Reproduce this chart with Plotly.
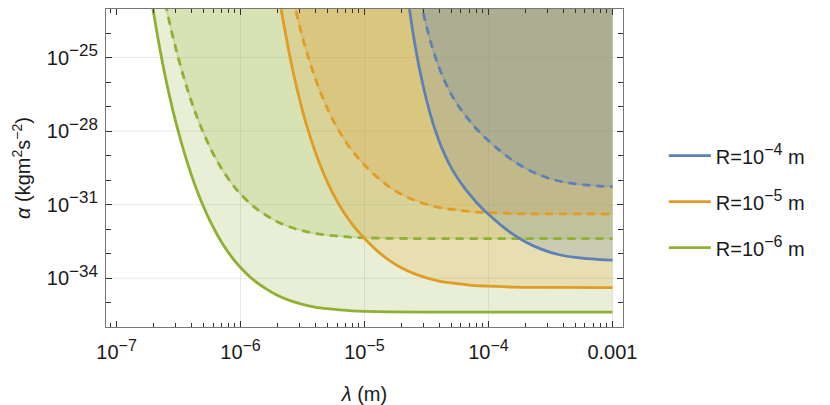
import plotly.graph_objects as go

# ---- data (log10 values) ----
# R = 1e-6 m (green)
g_sol_lx = [-6.72, -6.706, -6.65, -6.60, -6.55, -6.50, -6.45, -6.40, -6.35, -6.30, -6.25, -6.20, -6.15, -6.10, -6.05,
            -6.00, -5.90, -5.80, -5.70, -5.60, -5.50, -5.40, -5.30, -5.20, -5.10, -5.00, -4.80, -4.50, -4.00, -3.50, -3.00]
g_sol_ly = [-22.56, -23.02, -24.66, -25.94, -27.06, -28.05, -28.94, -29.73, -30.44, -31.06, -31.62, -32.11, -32.55, -32.93, -33.27,
            -33.56, -34.05, -34.41, -34.70, -34.91, -35.06, -35.17, -35.24, -35.29, -35.33, -35.35, -35.37, -35.38, -35.38, -35.38, -35.38]
g_das_lx = [-6.65, -6.60, -6.55, -6.50, -6.45, -6.40, -6.35, -6.30, -6.25, -6.20, -6.15, -6.10, -6.05,
            -6.00, -5.90, -5.80, -5.70, -5.60, -5.50, -5.40, -5.30, -5.20, -5.10, -5.00, -4.80, -4.50, -4.00, -3.50, -3.00]
g_das_ly = [-21.66, -22.94, -24.06, -25.05, -25.94, -26.73, -27.44, -28.06, -28.62, -29.11, -29.55, -29.93, -30.27,
            -30.56, -31.05, -31.41, -31.70, -31.91, -32.06, -32.17, -32.24, -32.29, -32.33, -32.35, -32.37, -32.38, -32.38, -32.38, -32.38]
# R = 1e-5 m (orange)
o_sol_lx = [-5.69, -5.672, -5.65, -5.60, -5.55, -5.50, -5.45, -5.40, -5.35, -5.30, -5.25, -5.20, -5.15, -5.10, -5.05,
            -5.00, -4.90, -4.80, -4.70, -4.60, -4.50, -4.40, -4.30, -4.20, -4.10, -4.00, -3.80, -3.50, -3.00]
o_sol_ly = [-22.47, -23.03, -23.66, -25.00, -26.16, -27.17, -28.04, -28.81, -29.48, -30.07, -30.59, -31.04, -31.44, -31.79, -32.10,
            -32.38, -32.87, -33.27, -33.58, -33.81, -33.98, -34.11, -34.19, -34.25, -34.30, -34.32, -34.36, -34.37, -34.38]
o_das_lx = [-5.60, -5.55, -5.50, -5.45, -5.40, -5.35, -5.30, -5.25, -5.20, -5.15, -5.10, -5.05,
            -5.00, -4.90, -4.80, -4.70, -4.60, -4.50, -4.40, -4.30, -4.20, -4.10, -4.00, -3.80, -3.50, -3.00]
o_das_ly = [-22.00, -23.16, -24.17, -25.04, -25.81, -26.48, -27.07, -27.59, -28.04, -28.44, -28.79, -29.10,
            -29.38, -29.87, -30.27, -30.58, -30.81, -30.98, -31.11, -31.19, -31.25, -31.30, -31.32, -31.36, -31.37, -31.38]
# R = 1e-4 m (blue)
b_sol_lx = [-4.66, -4.638, -4.60, -4.55, -4.50, -4.45, -4.40, -4.35, -4.30, -4.25, -4.20, -4.15, -4.10, -4.05,
            -4.00, -3.90, -3.80, -3.70, -3.60, -3.50, -3.40, -3.30, -3.20, -3.10, -3.00]
b_sol_ly = [-22.16, -23.00, -24.26, -25.62, -26.73, -27.64, -28.38, -28.99, -29.50, -29.91, -30.27, -30.59, -30.89, -31.15,
            -31.39, -31.83, -32.21, -32.52, -32.76, -32.94, -33.07, -33.15, -33.20, -33.24, -33.26]
b_das_lx = [-4.55, -4.50, -4.45, -4.40, -4.35, -4.30, -4.25, -4.20, -4.15, -4.10, -4.05,
            -4.00, -3.90, -3.80, -3.70, -3.60, -3.50, -3.40, -3.30, -3.20, -3.10, -3.00]
b_das_ly = [-22.62, -23.73, -24.64, -25.38, -25.99, -26.50, -26.91, -27.27, -27.59, -27.89, -28.15,
            -28.39, -28.83, -29.21, -29.52, -29.76, -29.94, -30.07, -30.15, -30.20, -30.24, -30.26]

SUP = '<sup><span style="font-size:16px">{}</span></sup>'
SUPY = '<sup><span style="font-size:17px">{}</span></sup>'
series_names = ["R=10" + SUP.format("\u22124") + " m", "R=10" + SUP.format("\u22125") + " m",
                "R=10" + SUP.format("\u22126") + " m"]
colors = ["#5E81B5", "#E19C24", "#8FB032"]
fills = ["rgba(94,129,181,0.2)", "rgba(225,156,36,0.2)", "rgba(143,176,50,0.2)"]
edges = ["rgba(94,129,181,0.3)", "rgba(225,156,36,0.3)", "rgba(143,176,50,0.3)"]

x_tick_vals = [1e-7, 1e-6, 1e-5, 1e-4, 1e-3]
x_tick_text = ["10" + SUP.format("\u22127"), "10" + SUP.format("\u22126"), "10" + SUP.format("\u22125"),
               "10" + SUP.format("\u22124"), "0.001"]
y_tick_vals = [1e-25, 1e-28, 1e-31, 1e-34]
y_tick_text = ["10" + SUPY.format("\u221225"), "10" + SUPY.format("\u221228"), "10" + SUPY.format("\u221231"),
               "10" + SUPY.format("\u221234")]

TOP = 1e-21


def pw(lst):
    return [10 ** v for v in lst]


curves = [
    ("g", g_sol_lx, g_sol_ly, g_das_lx, g_das_ly, 2),
    ("o", o_sol_lx, o_sol_ly, o_das_lx, o_das_ly, 1),
    ("b", b_sol_lx, b_sol_ly, b_das_lx, b_das_ly, 0),
]

fig = go.Figure()

# fills (drawn first, each from its curve up to the top)
for key, slx, sly, dlx, dly, ci in curves:
    for lx, ly in ((slx, sly), (dlx, dly)):
        xs = pw(lx)
        fig.add_trace(go.Scatter(x=[xs[0], xs[-1]], y=[TOP, TOP], mode="lines",
                                 line=dict(width=0, color="rgba(0,0,0,0)"),
                                 showlegend=False, hoverinfo="skip"))
        fig.add_trace(go.Scatter(x=xs, y=pw(ly), mode="lines", fill="tonexty",
                                 fillcolor=fills[ci],
                                 line=dict(width=0, color="rgba(0,0,0,0)", shape="spline"),
                                 showlegend=False, hoverinfo="skip"))

# faint fill edge under the dashed curves
for key, slx, sly, dlx, dly, ci in curves:
    fig.add_trace(go.Scatter(x=pw(dlx), y=pw(dly), mode="lines",
                             line=dict(width=1.5, color=edges[ci], shape="spline"),
                             showlegend=False, hoverinfo="skip"))

# lines
for key, slx, sly, dlx, dly, ci in curves:
    fig.add_trace(go.Scatter(x=pw(dlx), y=pw(dly), mode="lines",
                             line=dict(width=2.8, color=colors[ci], dash="8px,6px", shape="spline"),
                             showlegend=False, legendgroup=key))
    fig.add_trace(go.Scatter(x=pw(slx), y=pw(sly), mode="lines", name=series_names[ci],
                             line=dict(width=2.8, color=colors[ci], shape="spline"),
                             legendgroup=key, legendrank=ci + 1))

# gridlines at the decades used by the frame grid
for gx in [1e-6, 1e-5, 1e-4, 1e-3]:
    fig.add_shape(type="line", xref="x", yref="paper", x0=gx, x1=gx, y0=0, y1=1,
                  line=dict(color="rgba(0,0,0,0.09)", width=1), layer="below")
for gy in y_tick_vals:
    fig.add_shape(type="line", xref="paper", yref="y", x0=0, x1=1, y0=gy, y1=gy,
                  line=dict(color="rgba(0,0,0,0.09)", width=1), layer="below")

x_minor = [k * 10 ** e for e in range(-8, -2) for k in range(2, 10)]
y_minor = [10.0 ** e for e in range(-36, -22)]

font = dict(family="Liberation Sans, Arial, sans-serif", size=20, color="#1a1a1a")

# the page body adds an 8px offset, so the figure is 8px smaller and margins are shifted
fig.update_layout(
    width=822, height=397,
    margin=dict(l=98, r=207, t=1, b=78),
    plot_bgcolor="white", paper_bgcolor="white",
    font=font,
    showlegend=True,
    legend=dict(x=1.079, y=0.6, xanchor="left", yanchor="top",
                traceorder="grouped", tracegroupgap=17, itemwidth=42,
                font=dict(size=20, color="#1a1a1a"), bgcolor="rgba(0,0,0,0)"),
    xaxis=dict(type="log", range=[-7.085, -2.915], automargin=False,
               tickmode="array", tickvals=x_tick_vals, ticktext=x_tick_text,
               ticks="inside", ticklen=6, tickcolor="#333", tickwidth=1,
               showline=True, linecolor="#777", linewidth=1.2, mirror="ticks",
               showgrid=False, zeroline=False,
               minor=dict(tickmode="array", tickvals=x_minor, ticks="inside", ticklen=3.5,
                          tickcolor="#333", tickwidth=1, showgrid=False),
               title=dict(text="<i>\u03bb</i> (m)", font=dict(size=20), standoff=24),
               ticklabelstandoff=7),
    yaxis=dict(type="log", range=[-35.985, -23.02], automargin=False,
               tickmode="array", tickvals=y_tick_vals, ticktext=y_tick_text,
               ticks="inside", ticklen=6, tickcolor="#333", tickwidth=1,
               showline=True, linecolor="#777", linewidth=1.2, mirror="ticks",
               showgrid=False, zeroline=False,
               minor=dict(tickmode="array", tickvals=y_minor, ticks="inside", ticklen=4.5,
                          tickcolor="#333", tickwidth=1, showgrid=False),
               title=dict(text="<i>\u03b1</i> (kgm<sup>2</sup>s<sup>\u22122</sup>)", font=dict(size=20), standoff=10),
               ticklabelstandoff=3),
)

fig.write_html("out.html")
